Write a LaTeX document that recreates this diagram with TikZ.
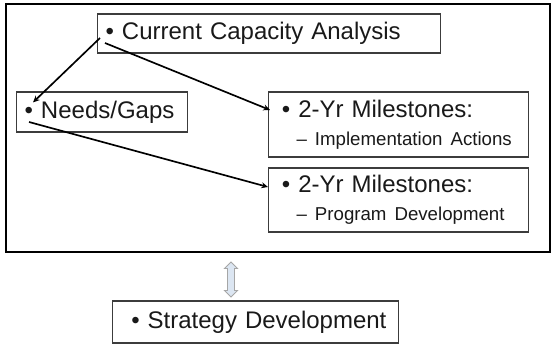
\documentclass[tikz,border=0pt]{standalone}
\usepackage{fontspec}
\setmainfont{Liberation Sans}
\usepackage{xcolor}
\usetikzlibrary{arrows.meta,positioning,shapes.arrows,calc}
\definecolor{boxcol}{RGB}{60,60,60}
\definecolor{txtcol}{RGB}{25,25,25}
\definecolor{arrcol}{RGB}{220,230,242}
\newcommand{\bul}[1]{\mbox{\textbullet\ #1}}
\newcommand{\sub}[1]{\mbox{\fontsize{14}{17}\selectfont\hspace*{11pt}-- #1}}

\begin{document}
\begin{tikzpicture}[
    x=0.75pt, y=-0.75pt, >=Stealth,
    box/.style={draw=boxcol, line width=0.9pt, anchor=west, align=left,
                text=txtcol, font=\fontsize{18}{22}\selectfont,
                inner ysep=0pt},
    ar/.style={line width=1.25pt, black, -{Stealth[length=5pt,width=4.5pt]}}
  ]
  \useasboundingbox (0,0) rectangle (553,349);
  \node[draw, line width=1.4pt, minimum width=544*0.75pt, minimum height=248*0.75pt,
        inner sep=0pt] (frame) at (278,128) {};

  \node[box, minimum width=343*0.75pt, minimum height=39*0.75pt, text width=343*0.75pt-12pt,
        inner xsep=6pt] (cur) at (97,33.5) {\bul{Current Capacity Analysis}};
  \node[box, minimum width=171*0.75pt, minimum height=40*0.75pt, text width=171*0.75pt-12pt,
        inner xsep=6pt] (need) at (16,112) {\bul{Needs/Gaps}};
  \node[box, minimum width=260*0.75pt, minimum height=65*0.75pt, text width=260*0.75pt-20pt,
        inner xsep=10pt] (ms1) at (268,124.5) {\bul{2-Yr Milestones:}\\[-1pt] \sub{Implementation Actions}};
  \node[box, minimum width=260*0.75pt, minimum height=64*0.75pt, text width=260*0.75pt-20pt,
        inner xsep=10pt] (ms2) at (268,200) {\bul{2-Yr Milestones:}\\[-1pt] \sub{Program Development}};

  \node[box, minimum width=286*0.75pt, minimum height=42*0.75pt, text width=286*0.75pt-28pt,
        inner xsep=14pt] (strat) at (112,322) {\bul{Strategy Development}};

  \node[double arrow, draw=gray!70, fill=arrcol, line width=0.7pt, rotate=90,
        minimum height=35*0.75pt, minimum width=13*0.75pt,
        double arrow head extend=2.2pt, inner sep=2.2pt] (link) at (231,279.5) {};

  \draw[ar] ($(cur.west)+(3,4.5)$) -- ($(need.north west)+(17,11)$);
  \draw[ar] ($(cur.west)+(8,9.5)$) -- ($(ms1.west)+(2,-14.5)$);
  \draw[ar] ($(need.west)+(13,10)$) -- ($(ms2.west)+(0,-13)$);
\end{tikzpicture}
\end{document}
